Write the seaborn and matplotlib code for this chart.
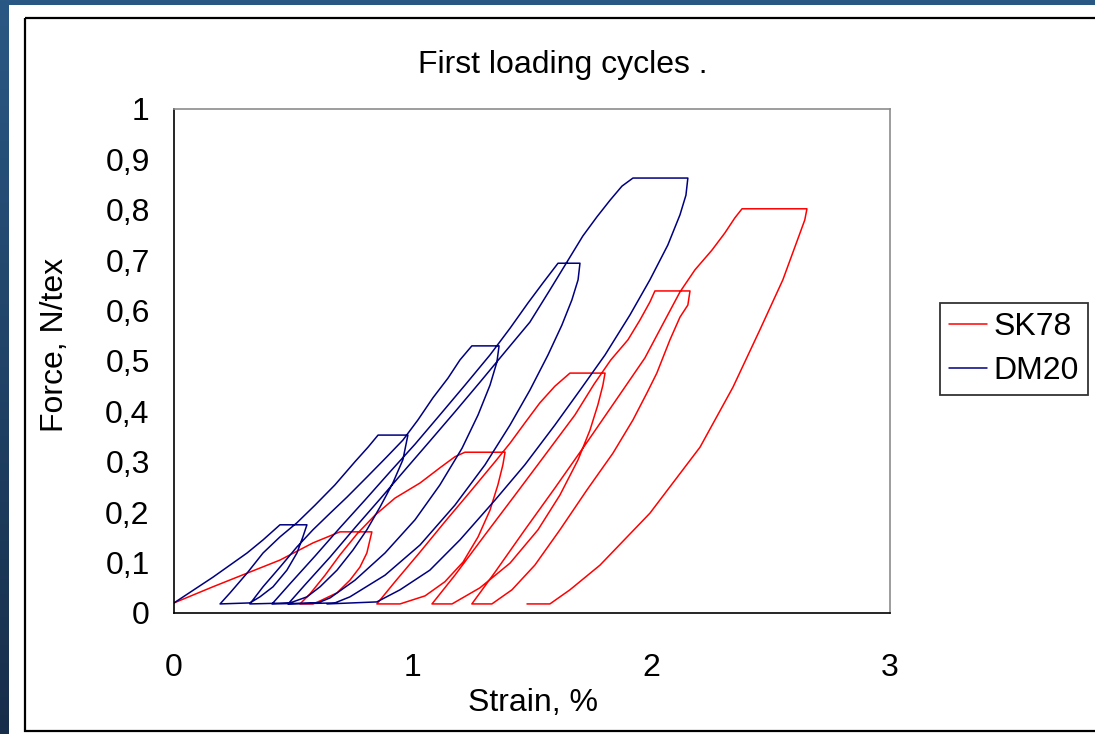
import numpy as np
import pandas as pd
import matplotlib
matplotlib.use("Agg")
import matplotlib.pyplot as plt
from matplotlib.patches import Rectangle
import seaborn as sns

# ---------------- data ----------------
sk78_strain = [
    0.000, 0.163, 0.306, 0.444, 0.582, 0.654, 0.695,
    0.829,
    0.821, 0.808, 0.779, 0.737, 0.683, 0.612, 0.582,
    0.528,
    0.570, 0.633, 0.695, 0.767, 0.842, 0.926, 1.031, 1.114, 1.177, 1.219,
    1.387,
    1.378, 1.357, 1.324, 1.274, 1.211, 1.135, 1.052, 0.947,
    0.850,
    0.926, 1.031, 1.135, 1.240, 1.345, 1.408, 1.470, 1.533, 1.596, 1.659,
    1.806,
    1.797, 1.776, 1.743, 1.693, 1.617, 1.525, 1.408, 1.282, 1.165,
    1.081,
    1.177, 1.303, 1.429, 1.554, 1.680, 1.760, 1.830, 1.902, 1.952, 1.994, 2.015,
    2.162,
    2.153, 2.120, 2.078, 2.023, 1.982, 1.923, 1.839, 1.730, 1.617, 1.512, 1.416, 1.332,
    1.248,
    1.345, 1.470, 1.596, 1.722, 1.847, 1.973, 2.057, 2.120, 2.183, 2.254, 2.308, 2.350, 2.380,
    2.652,
    2.643, 2.623, 2.551, 2.455, 2.342, 2.204, 1.994, 1.785, 1.659, 1.575,
    1.479,
]
sk78_force = [
    0.020, 0.052, 0.079, 0.105, 0.139, 0.153, 0.161,
    0.161,
    0.145, 0.119, 0.091, 0.065, 0.040, 0.024, 0.018,
    0.018,
    0.038, 0.075, 0.115, 0.157, 0.194, 0.228, 0.258, 0.288, 0.310, 0.319,
    0.319,
    0.294, 0.254, 0.204, 0.151, 0.101, 0.062, 0.034, 0.018,
    0.018,
    0.062, 0.121, 0.181, 0.240, 0.300, 0.337, 0.377, 0.417, 0.450, 0.476,
    0.476,
    0.452, 0.413, 0.363, 0.304, 0.234, 0.165, 0.099, 0.050, 0.018,
    0.018,
    0.075, 0.155, 0.234, 0.313, 0.393, 0.454, 0.502, 0.542, 0.581, 0.617, 0.639,
    0.639,
    0.611, 0.587, 0.542, 0.476, 0.437, 0.383, 0.317, 0.244, 0.165, 0.095, 0.046, 0.018,
    0.018,
    0.081, 0.165, 0.248, 0.333, 0.419, 0.506, 0.581, 0.637, 0.681, 0.720, 0.754, 0.784, 0.802,
    0.802,
    0.780, 0.754, 0.661, 0.562, 0.448, 0.329, 0.198, 0.095, 0.046, 0.018,
    0.018,
]

dm20_strain = [
    0.000, 0.163, 0.306, 0.373, 0.444,
    0.557,
    0.540, 0.515, 0.473, 0.415, 0.360, 0.318,
    0.193,
    0.235, 0.306, 0.373, 0.444, 0.515, 0.591, 0.674, 0.758, 0.813, 0.855,
    0.980,
    0.959, 0.917, 0.863, 0.808, 0.750, 0.683, 0.612, 0.557, 0.486,
    0.318,
    0.373, 0.444, 0.515, 0.582, 0.654, 0.725, 0.809, 0.892, 0.959, 1.022, 1.085, 1.148, 1.198, 1.248,
    1.362,
    1.353, 1.324, 1.274, 1.207, 1.114, 1.010, 0.884, 0.758, 0.654, 0.603,
    0.411,
    0.486, 0.591, 0.695, 0.800, 0.905, 1.010, 1.114, 1.219, 1.324, 1.408, 1.483, 1.546, 1.588, 1.609,
    1.701,
    1.693, 1.667, 1.625, 1.567, 1.491, 1.408, 1.303, 1.177, 1.031, 0.884, 0.737, 0.674,
    0.478,
    0.549, 0.654, 0.758, 0.863, 0.968, 1.072, 1.177, 1.282, 1.387, 1.491, 1.575, 1.646, 1.713, 1.772, 1.827, 1.877, 1.923,
    2.153,
    2.145, 2.120, 2.069, 1.994, 1.910, 1.806, 1.701, 1.596, 1.470, 1.345, 1.198, 1.072, 0.947, 0.850,
    0.641,
]
dm20_force = [
    0.020, 0.071, 0.119, 0.145, 0.175,
    0.175,
    0.151, 0.119, 0.085, 0.052, 0.032, 0.020,
    0.018,
    0.040, 0.079, 0.119, 0.151, 0.179, 0.214, 0.254, 0.300, 0.329, 0.353,
    0.353,
    0.304, 0.258, 0.210, 0.165, 0.125, 0.085, 0.052, 0.032, 0.020,
    0.018,
    0.052, 0.091, 0.131, 0.165, 0.198, 0.230, 0.270, 0.310, 0.343, 0.383, 0.427, 0.466, 0.502, 0.530,
    0.530,
    0.498, 0.452, 0.393, 0.327, 0.254, 0.185, 0.119, 0.065, 0.030, 0.020,
    0.018,
    0.058, 0.113, 0.169, 0.224, 0.280, 0.335, 0.393, 0.452, 0.512, 0.565, 0.615, 0.655, 0.681, 0.694,
    0.694,
    0.661, 0.621, 0.571, 0.512, 0.442, 0.373, 0.294, 0.214, 0.135, 0.075, 0.032, 0.020,
    0.018,
    0.056, 0.111, 0.169, 0.226, 0.284, 0.341, 0.399, 0.458, 0.518, 0.577, 0.641, 0.696, 0.748, 0.786, 0.819, 0.847, 0.863,
    0.863,
    0.829, 0.790, 0.730, 0.661, 0.591, 0.512, 0.442, 0.373, 0.294, 0.224, 0.145, 0.085, 0.046, 0.022,
    0.018,
]

series_names = ["SK78", "DM20"]
series_colors = ["#FF0000", "#000080"]
x_ticks = [0, 1, 2, 3]
x_tick_labels = ["0", "1", "2", "3"]
y_ticks = [0.0, 0.1, 0.2, 0.3, 0.4, 0.5, 0.6, 0.7, 0.8, 0.9, 1.0]
y_tick_labels = ["0", "0,1", "0,2", "0,3", "0,4", "0,5", "0,6", "0,7", "0,8", "0,9", "1"]
title_text = "First loading cycles ."
x_label = "Strain, %"
y_label = "Force, N/tex"

assert len(sk78_strain) == len(sk78_force)
assert len(dm20_strain) == len(dm20_force)

df = pd.concat([
    pd.DataFrame({"strain": sk78_strain, "force": sk78_force, "series": series_names[0]}),
    pd.DataFrame({"strain": dm20_strain, "force": dm20_force, "series": series_names[1]}),
], ignore_index=True)

# ---------------- styling ----------------
sns.set_style("white")
plt.rcParams["font.family"] = ["Liberation Sans", "DejaVu Sans"]
plt.rcParams["text.color"] = "black"

W, H = 1095, 734
fig = plt.figure(figsize=(W / 100, H / 100), dpi=100)

# background (dark blue slide border + white card + black frame)
bg = fig.add_axes([0, 0, 1, 1], zorder=-10)
bg.set_xlim(0, W)
bg.set_ylim(H, 0)
bg.axis("off")
grad = np.linspace(0, 1, 256).reshape(-1, 1)
top_c = np.array([0x2a, 0x58, 0x84]) / 255
bot_c = np.array([0x17, 0x2e, 0x4a]) / 255
img = top_c[None, None, :] * (1 - grad[:, :, None]) + bot_c[None, None, :] * grad[:, :, None]
bg.imshow(img, extent=[0, W, H, 0], aspect="auto", zorder=0)
bg.add_patch(Rectangle((9, 5), W - 9, H - 5, facecolor="white", edgecolor="none", zorder=1))
bg.add_patch(Rectangle((25, 18), W + 10 - 25, 731 - 18, facecolor="none",
                       edgecolor="black", linewidth=1.6, zorder=2))

# main plot area
ax = fig.add_axes([174 / W, 1 - 613 / H, (890 - 174) / W, (613 - 109) / H])
ax.set_facecolor("white")

sns.lineplot(data=df, x="strain", y="force", hue="series", hue_order=series_names,
             palette=series_colors, units="series", estimator=None, sort=False,
             linewidth=1.1, ax=ax)

ax.set_xlim(0, 3)
ax.set_ylim(0, 1)
ax.set_xticks(x_ticks)
ax.set_xticklabels(x_tick_labels)
ax.set_yticks(y_ticks)
ax.set_yticklabels(y_tick_labels)

for side in ["left", "bottom"]:
    ax.spines[side].set_color("black")
    ax.spines[side].set_linewidth(1.2)
for side in ["top", "right"]:
    ax.spines[side].set_color("#8c8c8c")
    ax.spines[side].set_linewidth(1.2)

ax.tick_params(axis="both", which="major", direction="out", length=8.5, width=1.0,
               color="black", labelsize=23, labelcolor="black")
ax.tick_params(axis="x", pad=20)
ax.tick_params(axis="y", pad=9)
ax.grid(False)

ax.set_xlabel("")
ax.set_ylabel("")
fig.text(533 / W, 1 - 703 / H, x_label, ha="center", va="center", fontsize=23, color="black")
fig.text(55 / W, 1 - 345 / H, y_label, ha="center", va="center", rotation=90,
         fontsize=23, color="black")
fig.text(563 / W, 1 - 65 / H, title_text, ha="center", va="center", fontsize=23, color="black")

handles, labels = ax.get_legend_handles_labels()
if ax.get_legend() is not None:
    ax.get_legend().remove()
leg = fig.legend(handles, labels, loc="upper left",
                 bbox_to_anchor=(940 / W, 1 - 303 / H), frameon=True, fancybox=False,
                 edgecolor="black", fontsize=23, handlelength=1.2, handletextpad=0.2,
                 labelspacing=0.45, borderpad=0.28, borderaxespad=0.0, labelcolor="black")
leg.get_frame().set_linewidth(1.3)
for line in leg.get_lines():
    line.set_linewidth(1.1)

fig.savefig("out.png", dpi=100)
